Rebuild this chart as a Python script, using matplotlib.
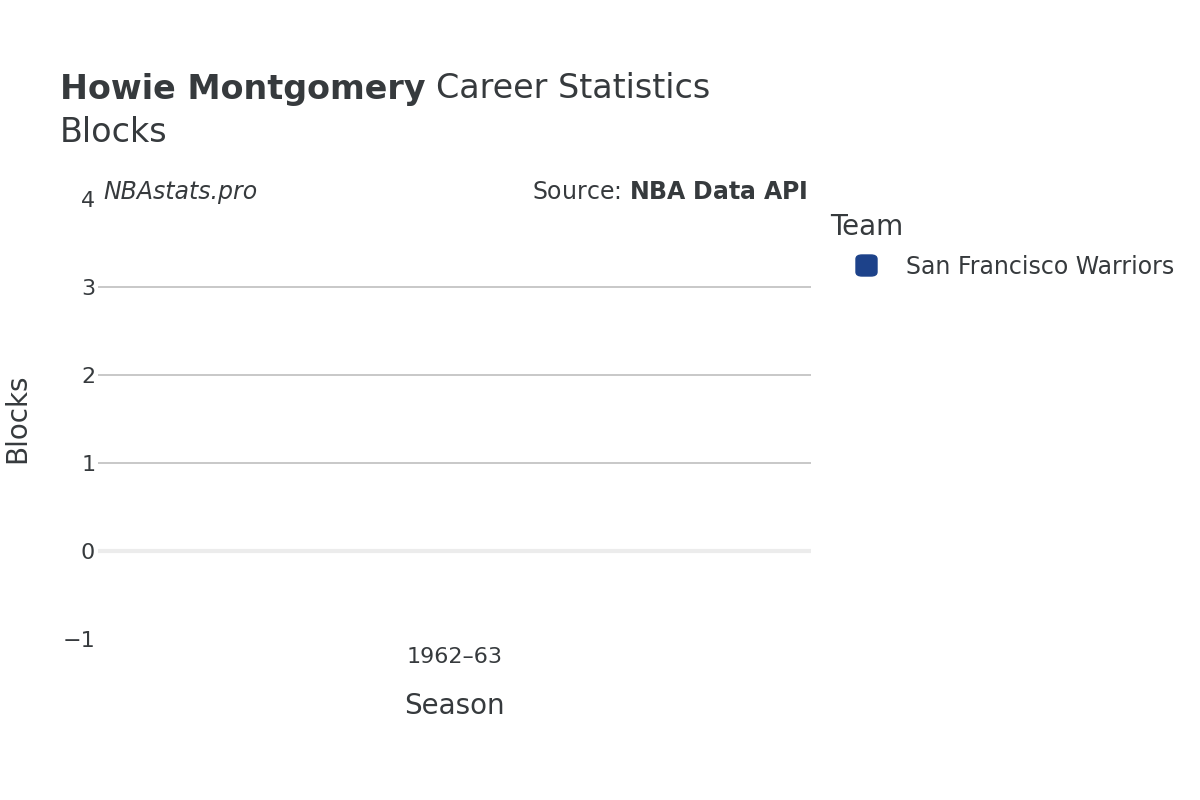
import matplotlib.pyplot as plt
from matplotlib.patches import FancyBboxPatch

seasons = ["1962\u201363"]
blocks = [0]
team = "San Francisco Warriors"
team_color = "#1d428a"
text_color = "#363a3d"

fig = plt.figure(figsize=(12, 8), dpi=100)
ax = fig.add_axes([98 / 1200, 1 - 639 / 800, 713 / 1200, 440 / 800])

ax.bar(range(len(seasons)), blocks, color=team_color, width=0.6)
ax.set_xlim(-0.5, len(seasons) - 0.5)
ax.set_ylim(-1, 4)
ax.set_yticks([-1, 0, 1, 2, 3, 4])
ax.set_yticklabels(["\u22121", "0", "1", "2", "3", "4"])
ax.set_xticks(range(len(seasons)))
ax.set_xticklabels(seasons)
for y in [1, 2, 3]:
    ax.axhline(y, color="#c4c4c4", lw=1.3, zorder=0)
ax.axhline(0, color="#ececec", lw=3, zorder=0)
for s in ax.spines.values():
    s.set_visible(False)
ax.tick_params(length=0, labelsize=16, colors=text_color)
ax.tick_params(axis="x", pad=6)
ax.tick_params(axis="y", pad=2)
ax.set_xlabel("Season", fontsize=20, color=text_color, labelpad=18)
fig.text(17 / 1200, 1 - 418 / 800, "Blocks", fontsize=20, color=text_color,
         rotation=90, va="center", ha="center")

t = fig.text(60 / 1200, 1 - 89 / 800, "Howie Montgomery", fontsize=24, fontweight="bold",
             color=text_color, va="center")
fig.canvas.draw()
bb = t.get_window_extent()
fig.text(bb.x1 / 1200 + 10 / 1200, 1 - 89 / 800, "Career Statistics", fontsize=24,
         color=text_color, va="center")
fig.text(60 / 1200, 1 - 133 / 800, "Blocks", fontsize=24, color=text_color, va="center")
fig.text(103 / 1200, 1 - 192 / 800, "NBAstats.pro", fontsize=17, style="italic",
         color=text_color, va="center")
fig.text(808 / 1200, 1 - 192 / 800, "Source: $\\bf{NBA\\ Data\\ API}$", fontsize=17,
         color=text_color, va="center", ha="right")

fig.text(830 / 1200, 1 - 227 / 800, "Team", fontsize=20, color=text_color, va="center")
fig.patches.append(FancyBboxPatch((856 / 1200, 1 - 276 / 800), 21 / 1200, 21 / 800,
                                  boxstyle="round,pad=0,rounding_size=0.005",
                                  transform=fig.transFigure, color=team_color))
fig.text(906 / 1200, 1 - 267 / 800, team, fontsize=17, color=text_color, va="center")

fig.savefig("out.png")
